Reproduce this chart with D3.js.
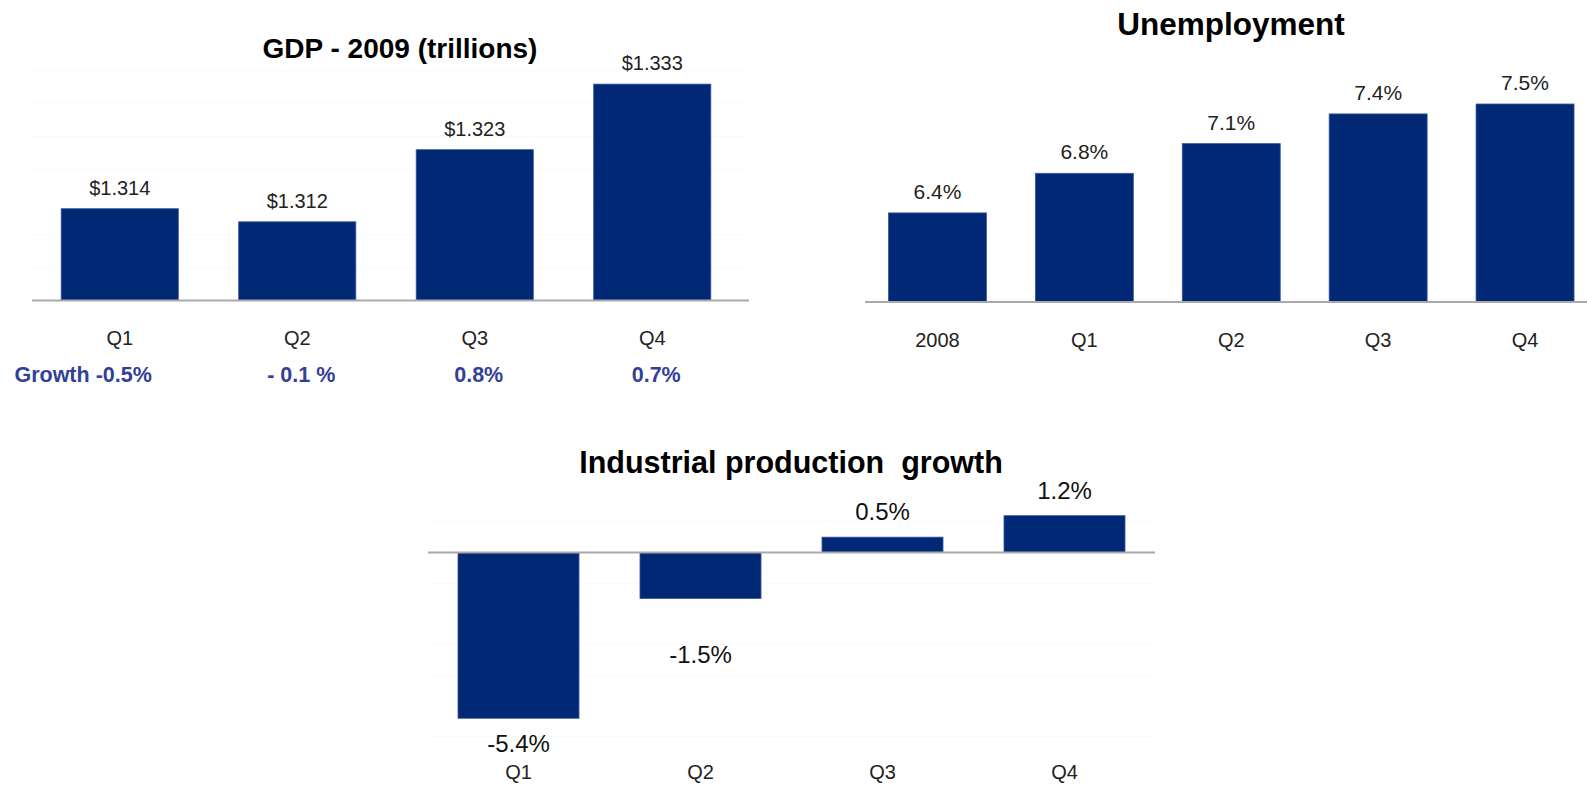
<!DOCTYPE html>
<html>
<head>
<meta charset="utf-8">
<script src="https://cdn.jsdelivr.net/npm/d3@7"></script>
<style>
  html, body { margin: 0; padding: 0; background: #ffffff; }
  svg { display: block; }
  text { font-family: "Liberation Sans", Arial, Helvetica, sans-serif; white-space: pre; }
</style>
</head>
<body>
<svg id="chart" width="1587" height="785"></svg>
<script>
// ---- Data ----
const gdpQuarters = ["Q1", "Q2", "Q3", "Q4"];
const gdpValues = [1.314, 1.312, 1.323, 1.333];          // trillions
const gdpGrowth = ["-0.5%", "- 0.1 %", "0.8%", "0.7%"];
const gdpTicks = [1.300, 1.305, 1.310, 1.315, 1.320, 1.325, 1.330, 1.335];

const unempPeriods = ["2008", "Q1", "Q2", "Q3", "Q4"];
const unempValues = [6.4, 6.8, 7.1, 7.4, 7.5];           // percent

const ipQuarters = ["Q1", "Q2", "Q3", "Q4"];
const ipValues = [-5.4, -1.5, 0.5, 1.2];                 // percent
const ipTicks = [-6, -5, -4, -3, -2, -1, 0, 1, 2];

// ---- Styles ----
const BAR = "#002874";
const BAR_EDGE = "#3a58a4";
const AXIS = "#a9a9a9";
const GRID = "#fafafa";
const GROWTH = "#343f98";

const svg = d3.select("#chart");

function pct(v) { return v.toFixed(1) + "%"; }
function dollars(v) { return "$" + v.toFixed(3); }

function drawPanel(cfg) {
  const g = svg.append("g");
  const x = d3.scaleBand()
    .domain(cfg.categories)
    .range(cfg.xRange)
    .paddingInner(cfg.padInner)
    .paddingOuter(cfg.padInner / 2);
  const y = d3.scaleLinear().domain(cfg.yDomain).range(cfg.yRange);

  // faint horizontal gridlines
  if (cfg.ticks) {
    g.append("g").selectAll("line")
      .data(cfg.ticks.filter(t => t !== cfg.base))
      .join("line")
      .attr("x1", cfg.axisX[0]).attr("x2", cfg.axisX[1])
      .attr("y1", d => y(d)).attr("y2", d => y(d))
      .attr("stroke", GRID).attr("stroke-width", 1);
  }

  // title
  g.append("text")
    .attr("x", cfg.titleX).attr("y", cfg.titleY)
    .attr("text-anchor", "middle")
    .attr("font-size", cfg.titleSize).attr("font-weight", "bold")
    .attr("fill", "#000")
    .text(cfg.title);

  const rows = cfg.categories.map((c, i) => ({ c, v: cfg.values[i], i }));

  // bars
  g.append("g").selectAll("rect")
    .data(rows)
    .join("rect")
    .attr("x", d => x(d.c))
    .attr("width", x.bandwidth())
    .attr("y", d => Math.min(y(d.v), y(cfg.base)))
    .attr("height", d => Math.abs(y(d.v) - y(cfg.base)))
    .attr("fill", BAR)
    .attr("stroke", BAR_EDGE).attr("stroke-width", 0.8);

  // baseline axis
  g.append("line")
    .attr("x1", cfg.axisX[0]).attr("x2", cfg.axisX[1])
    .attr("y1", y(cfg.base)).attr("y2", y(cfg.base))
    .attr("stroke", AXIS).attr("stroke-width", 2);

  // category labels
  g.append("g").selectAll("text")
    .data(rows)
    .join("text")
    .attr("x", d => x(d.c) + x.bandwidth() / 2)
    .attr("y", cfg.catY)
    .attr("text-anchor", "middle")
    .attr("font-size", cfg.catSize)
    .attr("fill", "#222")
    .text(d => d.c);

  // value labels
  g.append("g").selectAll("text")
    .data(rows)
    .join("text")
    .attr("x", d => x(d.c) + x.bandwidth() / 2)
    .attr("y", d => d.v >= cfg.base
      ? y(d.v) - cfg.labelAbove
      : y(d.v) + cfg.labelBelow + (cfg.labelShift ? cfg.labelShift[d.i] : 0))
    .attr("text-anchor", "middle")
    .attr("font-size", cfg.labelSize)
    .attr("fill", cfg.labelColor)
    .text(d => cfg.format(d.v));

  return { g, x, y };
}

// GDP panel
const gdp = drawPanel({
  title: "GDP - 2009 (trillions)", titleX: 400, titleY: 58, titleSize: 28,
  categories: gdpQuarters, values: gdpValues, ticks: gdpTicks,
  xRange: [31, 741], padInner: 0.34, axisX: [32, 749],
  yDomain: [1.300, 1.335], yRange: [300.5, 71], base: 1.300,
  catY: 345, catSize: 20,
  labelAbove: 14, labelBelow: 0, labelSize: 20, labelColor: "#222",
  format: dollars
});

// growth row under the GDP quarters
const growthRow = gdp.g.append("g");
const growthTexts = growthRow.selectAll("text")
  .data(gdpGrowth)
  .join("text")
  .attr("x", (d, i) => gdp.x(gdpQuarters[i]) + gdp.x.bandwidth() / 2 + 4)
  .attr("y", 382)
  .attr("text-anchor", "middle")
  .attr("font-size", 21.5).attr("font-weight", "bold")
  .attr("fill", GROWTH)
  .text(d => d);
const firstNode = growthTexts.nodes()[0];
const firstW = firstNode.getComputedTextLength();
growthRow.append("text")
  .attr("x", +firstNode.getAttribute("x") - firstW / 2 - 6)
  .attr("y", 382)
  .attr("text-anchor", "end")
  .attr("font-size", 21.5).attr("font-weight", "bold")
  .attr("fill", GROWTH)
  .text("Growth");

// Unemployment panel
drawPanel({
  title: "Unemployment", titleX: 1231, titleY: 35, titleSize: 31.5,
  categories: unempPeriods, values: unempValues, ticks: null,
  xRange: [864, 1598.5], padInner: 0.333, axisX: [865, 1587],
  yDomain: [5.5, 7.5], yRange: [302, 104], base: 5.5,
  catY: 347, catSize: 20,
  labelAbove: 14, labelBelow: 0, labelSize: 21, labelColor: "#222",
  format: pct
});

// Industrial production panel
drawPanel({
  title: "Industrial production  growth", titleX: 791, titleY: 473, titleSize: 30.5,
  categories: ipQuarters, values: ipValues, ticks: ipTicks,
  xRange: [427.5, 1155.5], padInner: 0.335, axisX: [428, 1155],
  yDomain: [-6, 2], yRange: [736.7, 491.1], base: 0,
  catY: 779, catSize: 20,
  labelAbove: 17, labelBelow: 34, labelShift: [0, 30, 0, 0],
  labelSize: 24, labelColor: "#111",
  format: pct
});
</script>
</body>
</html>
